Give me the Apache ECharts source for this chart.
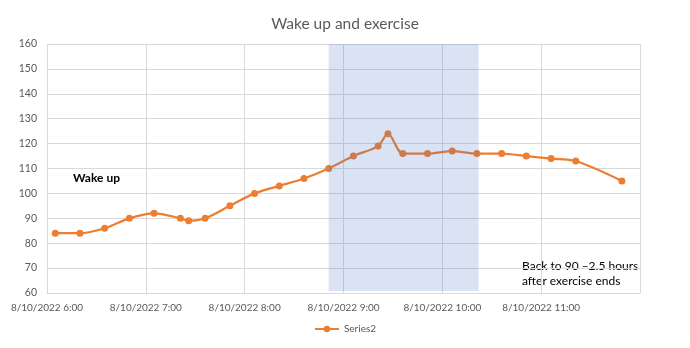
<!DOCTYPE html>
<html><head><meta charset="utf-8">
<script src="https://cdn.jsdelivr.net/npm/echarts@6/dist/echarts.min.js"></script>
<style>html,body{margin:0;padding:0;background:#fff}#c{width:690px;height:348px}</style>
</head><body><div id="c"></div>
<script>
const times = ['6:05','6:20','6:35','6:50','7:05','7:21','7:26','7:36','7:51','8:06','8:21','8:36','8:51','9:06','9:21','9:27','9:36','9:51','10:06','10:21','10:36','10:51','11:06','11:21','11:49'];
const series2 = [84,84,86,90,92,90,89,90,95,100,103,106,110,115,119,124,116,116,117,116,116,115,114,113,105];
const exerciseStart = '8:51';
const exerciseEnd = '10:22';
const yTicks = {min:60, max:160, interval:10};
const xHours = {min:6, max:12, interval:1};
const datePrefix = '8/10/2022 ';

function toH(s){const [h,m]=s.split(':').map(Number);return h+m/60;}
const FONT = 'Lato';
const chart = echarts.init(document.getElementById('c'));
chart.setOption({
  animation:false,
  textStyle:{fontFamily:FONT},
  title:{text:'Wake up and exercise',left:'center',top:11,textStyle:{fontFamily:FONT,fontSize:15.5,fontWeight:'normal',color:'#595959'}},
  legend:{bottom:9,left:'center',itemWidth:24,itemHeight:8,itemGap:4,textStyle:{fontFamily:FONT,fontSize:10,color:'#595959'},data:['Series2']},
  grid:{left:47,right:50,top:44,bottom:55,containLabel:false},
  xAxis:{type:'value',min:xHours.min,max:xHours.max,interval:xHours.interval,
    axisLine:{show:true,lineStyle:{color:'#D9D9D9',width:1}},axisTick:{show:false},
    splitLine:{show:true,lineStyle:{color:'#D9D9D9',width:1}},
    axisLabel:{color:'#595959',fontSize:10,fontFamily:FONT,margin:10,showMaxLabel:false,
      formatter:v=>v<xHours.max?datePrefix+v+':00':''}},
  yAxis:{type:'value',min:yTicks.min,max:yTicks.max,interval:yTicks.interval,
    axisLine:{show:false},axisTick:{show:false},
    splitLine:{lineStyle:{color:'#D9D9D9',width:1}},
    axisLabel:{color:'#595959',fontSize:10.5,fontFamily:FONT,margin:10}},
  series:[
    {name:'Series2',type:'line',smooth:0.3,z:2,
     data:times.map((t,i)=>[toH(t),series2[i]]),
     symbol:'circle',symbolSize:7,
     lineStyle:{color:'#ED7D31',width:2.25},itemStyle:{color:'#ED7D31'}},
    {name:'shade',type:'custom',z:10,silent:true,
     data:[[toH(exerciseStart),toH(exerciseEnd)]],
     encode:{x:[0,1]},
     renderItem:(params,api)=>{
       const p1=api.coord([api.value(0),yTicks.max]);
       const p2=api.coord([api.value(1),yTicks.min+0.8]);
       return {type:'rect',shape:{x:p1[0],y:p1[1],width:p2[0]-p1[0],height:p2[1]-p1[1]},
         style:{fill:'rgba(68,114,196,0.2)'}};
     }}
  ],
  graphic:[
    {type:'text',left:73,top:172,style:{text:'Wake up',font:'bold 12px '+FONT,fill:'#000'}},
    {type:'text',left:522,top:259,style:{text:'Back to 90 \u20132.5 hours\nafter exercise ends',font:'12px '+FONT,fill:'#000',lineHeight:15}}
  ]
});
</script></body></html>
